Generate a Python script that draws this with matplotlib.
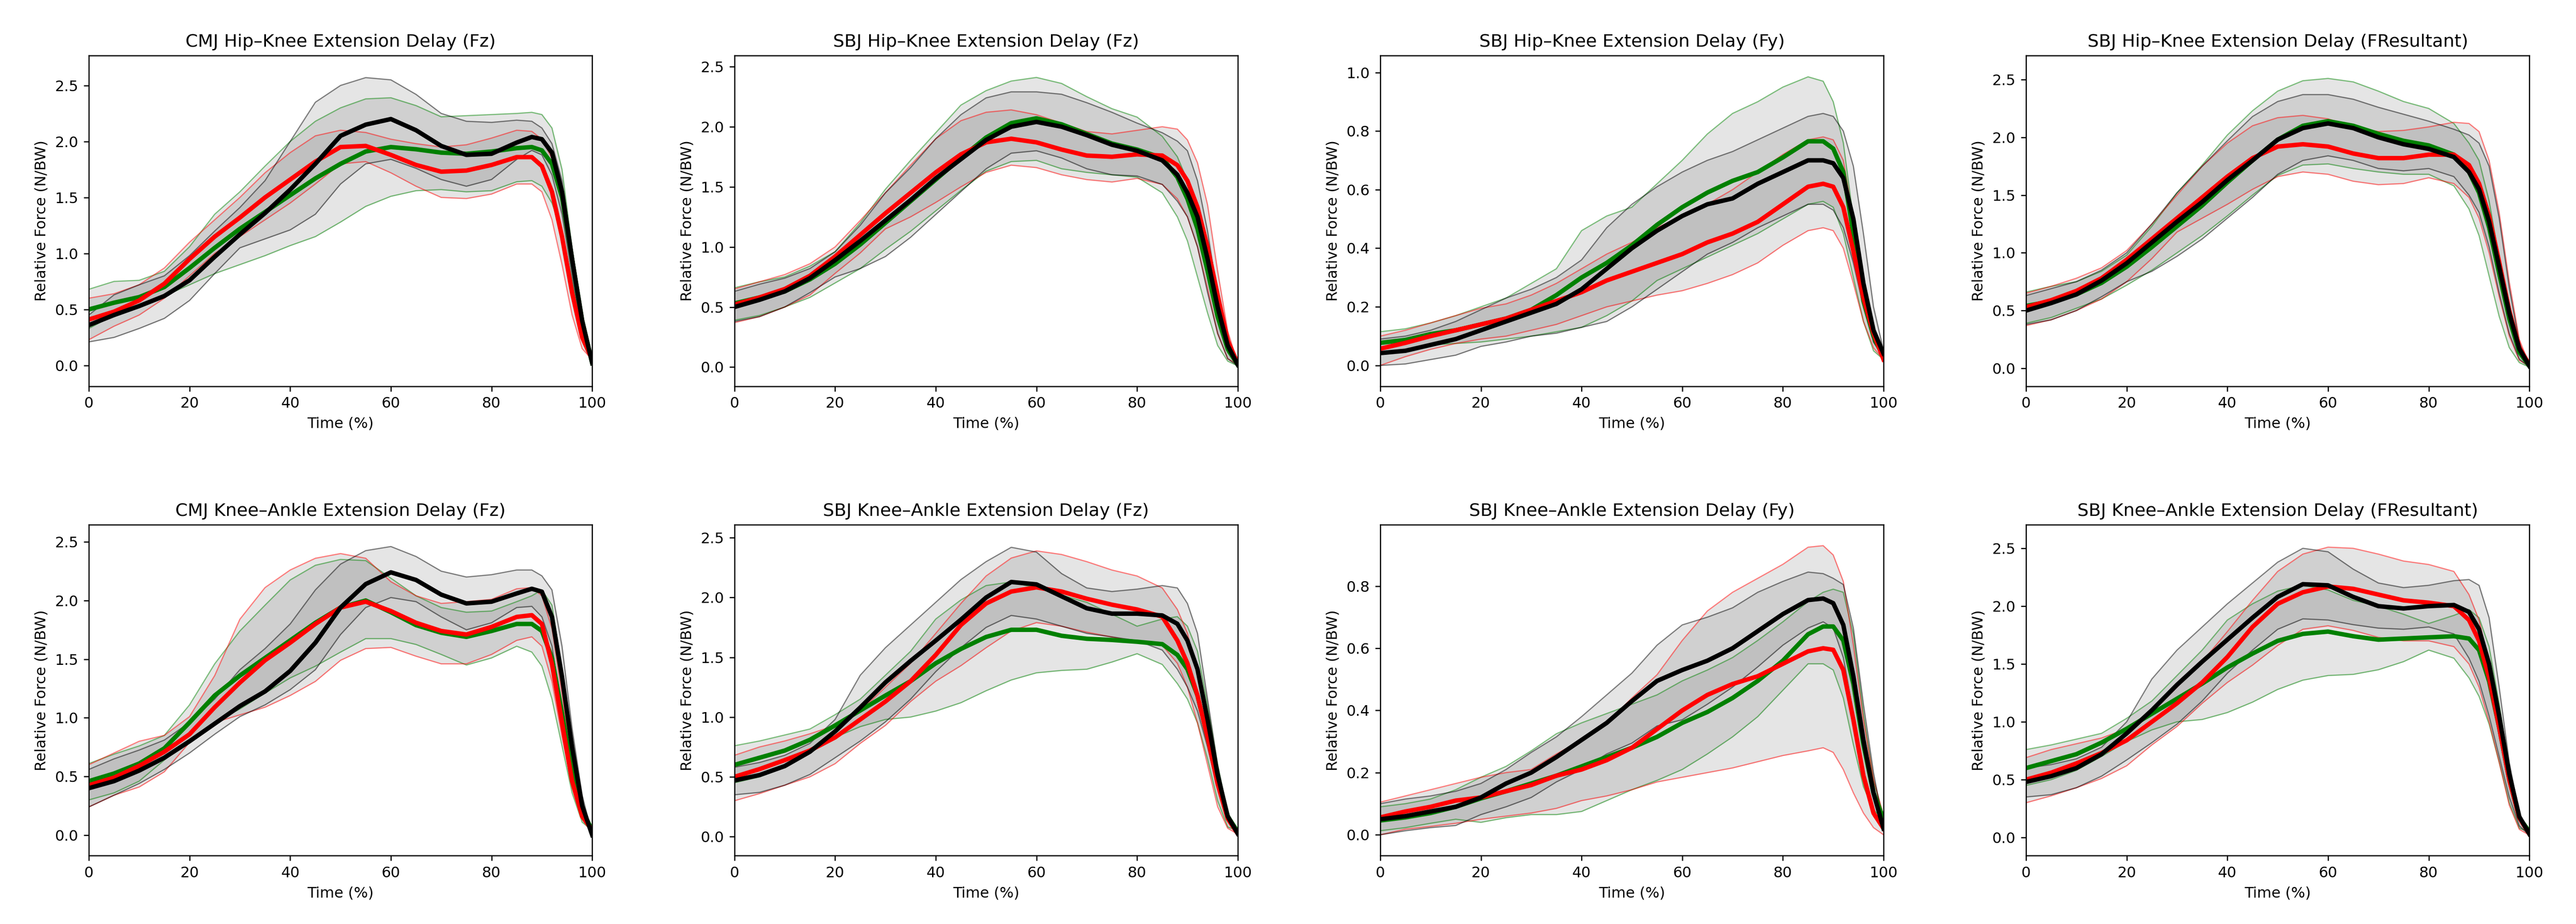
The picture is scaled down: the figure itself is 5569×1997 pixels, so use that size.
import matplotlib.pyplot as plt
import numpy as np

time_pct = [0, 5, 10, 15, 20, 25, 30, 35, 40, 45, 50, 55, 60, 65, 70, 75, 80, 85, 88, 90, 92, 94, 96, 98, 100]

titles = [
    "CMJ Hip\u2013Knee Extension Delay (Fz)",
    "SBJ Hip\u2013Knee Extension Delay (Fz)",
    "SBJ Hip\u2013Knee Extension Delay (Fy)",
    "SBJ Hip\u2013Knee Extension Delay (FResultant)",
    "CMJ Knee\u2013Ankle Extension Delay (Fz)",
    "SBJ Knee\u2013Ankle Extension Delay (Fz)",
    "SBJ Knee\u2013Ankle Extension Delay (Fy)",
    "SBJ Knee\u2013Ankle Extension Delay (FResultant)",
]

# panel 1: CMJ hip-knee Fz
p1_black_mean = [0.36, 0.45, 0.53, 0.62, 0.76, 0.97, 1.17, 1.36, 1.57, 1.80, 2.05, 2.15, 2.20, 2.10, 1.96, 1.88, 1.89, 1.99, 2.04, 2.02, 1.90, 1.55, 0.95, 0.40, 0.02]
p1_black_hi = [0.45, 0.63, 0.72, 0.80, 0.98, 1.20, 1.41, 1.65, 2.00, 2.35, 2.50, 2.57, 2.55, 2.42, 2.25, 2.18, 2.17, 2.19, 2.18, 2.12, 1.98, 1.65, 1.05, 0.45, 0.04]
p1_black_lo = [0.21, 0.25, 0.33, 0.42, 0.58, 0.82, 1.05, 1.13, 1.21, 1.35, 1.62, 1.80, 1.84, 1.76, 1.66, 1.60, 1.66, 1.84, 1.92, 1.88, 1.70, 1.35, 0.80, 0.30, 0.02]
p1_green_mean = [0.50, 0.56, 0.61, 0.70, 0.87, 1.05, 1.22, 1.37, 1.52, 1.67, 1.80, 1.91, 1.95, 1.93, 1.90, 1.89, 1.91, 1.94, 1.95, 1.92, 1.80, 1.50, 0.95, 0.40, 0.02]
p1_green_hi = [0.68, 0.75, 0.76, 0.84, 1.06, 1.35, 1.55, 1.78, 2.00, 2.18, 2.30, 2.38, 2.39, 2.32, 2.22, 2.23, 2.24, 2.25, 2.26, 2.24, 2.12, 1.75, 1.05, 0.42, 0.02]
p1_green_lo = [0.33, 0.45, 0.52, 0.62, 0.72, 0.82, 0.90, 0.98, 1.07, 1.15, 1.28, 1.42, 1.51, 1.56, 1.57, 1.55, 1.56, 1.64, 1.65, 1.60, 1.45, 1.20, 0.75, 0.30, 0.02]
p1_red_mean = [0.41, 0.48, 0.58, 0.73, 0.95, 1.15, 1.32, 1.50, 1.66, 1.82, 1.95, 1.96, 1.88, 1.79, 1.73, 1.74, 1.79, 1.86, 1.86, 1.78, 1.55, 1.15, 0.65, 0.25, 0.05]
p1_red_hi = [0.60, 0.64, 0.72, 0.87, 1.10, 1.30, 1.50, 1.72, 1.90, 2.05, 2.10, 2.08, 2.02, 1.98, 1.95, 1.97, 2.03, 2.10, 2.09, 2.02, 1.85, 1.45, 0.90, 0.35, 0.05]
p1_red_lo = [0.23, 0.35, 0.45, 0.60, 0.80, 1.00, 1.15, 1.30, 1.45, 1.62, 1.80, 1.82, 1.72, 1.60, 1.50, 1.49, 1.53, 1.62, 1.62, 1.55, 1.30, 0.90, 0.45, 0.15, 0.05]

# panel 2: SBJ hip-knee Fz
p2_black_mean = [0.50, 0.56, 0.63, 0.74, 0.89, 1.05, 1.22, 1.39, 1.57, 1.73, 1.89, 2.00, 2.04, 2.00, 1.93, 1.85, 1.80, 1.72, 1.60, 1.45, 1.25, 0.90, 0.50, 0.18, 0.02]
p2_black_hi = [0.63, 0.69, 0.74, 0.82, 0.96, 1.18, 1.45, 1.66, 1.90, 2.10, 2.24, 2.29, 2.29, 2.27, 2.20, 2.12, 2.03, 1.95, 1.88, 1.80, 1.55, 1.13, 0.60, 0.20, 0.02]
p2_black_lo = [0.38, 0.42, 0.50, 0.62, 0.75, 0.82, 0.92, 1.08, 1.27, 1.46, 1.65, 1.78, 1.80, 1.74, 1.65, 1.60, 1.59, 1.52, 1.38, 1.25, 1.00, 0.62, 0.28, 0.07, 0.01]
p2_green_mean = [0.53, 0.58, 0.63, 0.73, 0.86, 1.02, 1.20, 1.38, 1.56, 1.74, 1.91, 2.03, 2.07, 2.02, 1.94, 1.86, 1.81, 1.74, 1.58, 1.40, 1.15, 0.80, 0.42, 0.15, 0.02]
p2_green_hi = [0.66, 0.71, 0.75, 0.84, 0.96, 1.20, 1.48, 1.72, 1.95, 2.18, 2.30, 2.38, 2.41, 2.36, 2.25, 2.15, 2.08, 1.92, 1.75, 1.55, 1.25, 0.85, 0.42, 0.12, 0.02]
p2_green_lo = [0.39, 0.43, 0.50, 0.58, 0.70, 0.82, 0.98, 1.13, 1.30, 1.47, 1.63, 1.71, 1.72, 1.65, 1.62, 1.60, 1.58, 1.45, 1.25, 1.05, 0.75, 0.45, 0.18, 0.05, 0.01]
p2_red_mean = [0.52, 0.58, 0.65, 0.76, 0.92, 1.10, 1.28, 1.45, 1.62, 1.77, 1.87, 1.90, 1.87, 1.81, 1.76, 1.75, 1.77, 1.76, 1.68, 1.55, 1.33, 1.00, 0.60, 0.22, 0.03]
p2_red_hi = [0.65, 0.71, 0.77, 0.86, 1.00, 1.22, 1.45, 1.68, 1.90, 2.05, 2.12, 2.14, 2.10, 2.03, 1.96, 1.94, 1.97, 2.00, 1.98, 1.89, 1.70, 1.35, 0.80, 0.30, 0.03]
p2_red_lo = [0.37, 0.42, 0.50, 0.60, 0.78, 0.95, 1.15, 1.25, 1.37, 1.50, 1.62, 1.68, 1.66, 1.60, 1.56, 1.54, 1.57, 1.52, 1.40, 1.25, 1.00, 0.65, 0.28, 0.07, 0.02]

# panel 3: SBJ hip-knee Fy
p3_black_mean = [0.042, 0.05, 0.07, 0.09, 0.12, 0.15, 0.18, 0.21, 0.26, 0.33, 0.40, 0.46, 0.51, 0.55, 0.57, 0.62, 0.66, 0.70, 0.70, 0.69, 0.64, 0.50, 0.28, 0.12, 0.04]
p3_black_hi = [0.09, 0.10, 0.12, 0.15, 0.19, 0.23, 0.26, 0.30, 0.36, 0.47, 0.55, 0.61, 0.66, 0.70, 0.73, 0.77, 0.81, 0.85, 0.86, 0.85, 0.80, 0.68, 0.45, 0.20, 0.05]
p3_black_lo = [0.0, 0.005, 0.02, 0.035, 0.065, 0.08, 0.10, 0.11, 0.13, 0.15, 0.20, 0.26, 0.32, 0.38, 0.42, 0.47, 0.51, 0.55, 0.55, 0.53, 0.47, 0.35, 0.20, 0.08, 0.03]
p3_green_mean = [0.077, 0.087, 0.107, 0.12, 0.14, 0.16, 0.19, 0.24, 0.30, 0.35, 0.41, 0.48, 0.54, 0.59, 0.63, 0.66, 0.71, 0.765, 0.765, 0.74, 0.66, 0.45, 0.22, 0.10, 0.03]
p3_green_hi = [0.115, 0.125, 0.145, 0.17, 0.20, 0.23, 0.28, 0.33, 0.46, 0.51, 0.54, 0.62, 0.70, 0.79, 0.86, 0.90, 0.95, 0.985, 0.97, 0.90, 0.76, 0.50, 0.25, 0.08, 0.02]
p3_green_lo = [0.04, 0.05, 0.07, 0.075, 0.08, 0.09, 0.10, 0.115, 0.13, 0.17, 0.22, 0.29, 0.33, 0.37, 0.41, 0.45, 0.50, 0.55, 0.56, 0.54, 0.45, 0.30, 0.15, 0.05, 0.02]
p3_red_mean = [0.057, 0.077, 0.10, 0.12, 0.14, 0.16, 0.19, 0.22, 0.25, 0.29, 0.32, 0.35, 0.38, 0.42, 0.45, 0.49, 0.55, 0.61, 0.62, 0.61, 0.54, 0.39, 0.23, 0.11, 0.02]
p3_red_hi = [0.10, 0.12, 0.145, 0.17, 0.195, 0.21, 0.24, 0.28, 0.33, 0.38, 0.42, 0.47, 0.51, 0.55, 0.60, 0.66, 0.72, 0.77, 0.78, 0.77, 0.70, 0.50, 0.28, 0.10, 0.02]
p3_red_lo = [0.0, 0.03, 0.055, 0.075, 0.09, 0.10, 0.12, 0.14, 0.17, 0.20, 0.22, 0.24, 0.255, 0.28, 0.31, 0.35, 0.41, 0.46, 0.47, 0.46, 0.40, 0.28, 0.15, 0.06, 0.02]

# panel 4: SBJ hip-knee FResultant
p4_black_mean = [0.50, 0.565, 0.64, 0.76, 0.91, 1.09, 1.27, 1.44, 1.63, 1.80, 1.98, 2.08, 2.12, 2.08, 2.00, 1.94, 1.90, 1.83, 1.70, 1.55, 1.27, 0.88, 0.48, 0.17, 0.02]
p4_black_hi = [0.63, 0.69, 0.75, 0.85, 1.00, 1.25, 1.52, 1.75, 1.97, 2.18, 2.31, 2.37, 2.37, 2.33, 2.26, 2.20, 2.14, 2.07, 2.02, 1.95, 1.75, 1.30, 0.70, 0.22, 0.02]
p4_black_lo = [0.38, 0.42, 0.50, 0.62, 0.75, 0.84, 0.97, 1.12, 1.30, 1.48, 1.68, 1.80, 1.84, 1.80, 1.73, 1.71, 1.73, 1.66, 1.50, 1.35, 1.05, 0.65, 0.30, 0.08, 0.01]
p4_green_mean = [0.54, 0.58, 0.64, 0.74, 0.88, 1.05, 1.23, 1.41, 1.61, 1.80, 1.98, 2.10, 2.14, 2.10, 2.03, 1.97, 1.93, 1.85, 1.70, 1.52, 1.22, 0.82, 0.43, 0.14, 0.02]
p4_green_hi = [0.66, 0.71, 0.75, 0.84, 0.98, 1.23, 1.52, 1.76, 2.02, 2.23, 2.40, 2.49, 2.51, 2.48, 2.40, 2.31, 2.25, 2.12, 1.95, 1.80, 1.45, 0.95, 0.45, 0.12, 0.02]
p4_green_lo = [0.39, 0.44, 0.52, 0.60, 0.72, 0.85, 1.00, 1.15, 1.32, 1.50, 1.67, 1.76, 1.77, 1.73, 1.70, 1.68, 1.68, 1.58, 1.38, 1.15, 0.80, 0.45, 0.18, 0.05, 0.01]
p4_red_mean = [0.53, 0.59, 0.67, 0.78, 0.94, 1.12, 1.30, 1.48, 1.66, 1.82, 1.92, 1.94, 1.92, 1.86, 1.82, 1.82, 1.85, 1.85, 1.76, 1.60, 1.32, 0.92, 0.50, 0.18, 0.03]
p4_red_hi = [0.65, 0.71, 0.78, 0.87, 1.02, 1.25, 1.50, 1.75, 1.95, 2.10, 2.17, 2.19, 2.16, 2.09, 2.05, 2.06, 2.09, 2.13, 2.12, 2.05, 1.80, 1.35, 0.75, 0.25, 0.03]
p4_red_lo = [0.37, 0.42, 0.50, 0.60, 0.75, 0.95, 1.18, 1.30, 1.42, 1.55, 1.66, 1.70, 1.68, 1.62, 1.59, 1.60, 1.65, 1.60, 1.48, 1.30, 1.00, 0.62, 0.28, 0.07, 0.02]

# panel 5: CMJ knee-ankle Fz
p5_black_mean = [0.40, 0.46, 0.55, 0.66, 0.80, 0.95, 1.10, 1.225, 1.40, 1.64, 1.94, 2.14, 2.24, 2.175, 2.05, 1.975, 1.99, 2.06, 2.10, 2.075, 1.86, 1.35, 0.75, 0.25, 0.0]
p5_black_hi = [0.56, 0.65, 0.725, 0.81, 0.96, 1.16, 1.41, 1.59, 1.80, 2.09, 2.31, 2.425, 2.46, 2.375, 2.25, 2.20, 2.22, 2.26, 2.26, 2.21, 2.09, 1.61, 0.91, 0.34, 0.0]
p5_black_lo = [0.24, 0.34, 0.44, 0.56, 0.70, 0.86, 1.01, 1.11, 1.24, 1.41, 1.71, 1.94, 2.025, 1.99, 1.86, 1.75, 1.81, 1.94, 1.95, 1.86, 1.61, 1.04, 0.46, 0.16, 0.0]
p5_green_mean = [0.46, 0.525, 0.61, 0.74, 0.96, 1.19, 1.36, 1.51, 1.66, 1.81, 1.94, 2.00, 1.90, 1.79, 1.725, 1.69, 1.74, 1.80, 1.80, 1.74, 1.51, 1.04, 0.54, 0.21, 0.04]
p5_green_hi = [0.61, 0.69, 0.76, 0.85, 1.11, 1.46, 1.74, 1.96, 2.175, 2.30, 2.35, 2.34, 2.19, 2.04, 1.94, 1.90, 1.91, 1.99, 2.04, 2.09, 1.96, 1.41, 0.79, 0.29, 0.04]
p5_green_lo = [0.30, 0.36, 0.46, 0.64, 0.81, 0.96, 1.075, 1.21, 1.34, 1.44, 1.56, 1.675, 1.675, 1.625, 1.54, 1.45, 1.51, 1.61, 1.56, 1.44, 1.16, 0.76, 0.36, 0.11, 0.04]
p5_red_mean = [0.425, 0.49, 0.59, 0.71, 0.86, 1.09, 1.30, 1.49, 1.64, 1.80, 1.94, 1.99, 1.91, 1.81, 1.74, 1.71, 1.775, 1.86, 1.875, 1.80, 1.46, 0.96, 0.46, 0.16, 0.04]
p5_red_hi = [0.60, 0.70, 0.80, 0.85, 1.01, 1.36, 1.84, 2.11, 2.26, 2.36, 2.40, 2.36, 2.16, 2.04, 1.975, 1.99, 2.01, 2.10, 2.11, 2.04, 1.76, 1.21, 0.61, 0.21, 0.04]
p5_red_lo = [0.24, 0.34, 0.41, 0.54, 0.79, 0.96, 1.025, 1.09, 1.19, 1.31, 1.49, 1.59, 1.60, 1.525, 1.46, 1.46, 1.54, 1.66, 1.69, 1.61, 1.31, 0.84, 0.41, 0.14, 0.04]

# panel 6: SBJ knee-ankle Fz
p6_black_mean = [0.47, 0.515, 0.59, 0.71, 0.88, 1.08, 1.29, 1.47, 1.64, 1.815, 2.00, 2.13, 2.11, 2.01, 1.91, 1.865, 1.865, 1.85, 1.78, 1.64, 1.40, 0.98, 0.515, 0.17, 0.025]
p6_black_hi = [0.58, 0.62, 0.68, 0.78, 0.98, 1.35, 1.58, 1.77, 1.96, 2.15, 2.30, 2.42, 2.38, 2.20, 2.08, 2.05, 2.07, 2.10, 2.08, 1.95, 1.70, 1.15, 0.60, 0.20, 0.03]
p6_black_lo = [0.35, 0.37, 0.43, 0.52, 0.66, 0.80, 0.96, 1.15, 1.38, 1.58, 1.75, 1.85, 1.82, 1.76, 1.70, 1.67, 1.64, 1.56, 1.40, 1.25, 1.05, 0.75, 0.40, 0.13, 0.02]
p6_green_mean = [0.60, 0.66, 0.72, 0.81, 0.93, 1.055, 1.18, 1.30, 1.45, 1.57, 1.67, 1.73, 1.73, 1.68, 1.655, 1.645, 1.63, 1.61, 1.52, 1.40, 1.18, 0.83, 0.47, 0.17, 0.04]
p6_green_hi = [0.76, 0.80, 0.85, 0.90, 1.02, 1.15, 1.35, 1.55, 1.82, 1.98, 2.10, 2.13, 2.08, 2.02, 1.96, 1.86, 1.76, 1.82, 1.84, 1.76, 1.55, 1.10, 0.60, 0.20, 0.05]
p6_green_lo = [0.45, 0.50, 0.58, 0.70, 0.83, 0.92, 0.98, 1.00, 1.05, 1.12, 1.22, 1.31, 1.37, 1.39, 1.40, 1.46, 1.53, 1.44, 1.28, 1.15, 0.95, 0.65, 0.30, 0.08, 0.05]
p6_red_mean = [0.50, 0.565, 0.64, 0.72, 0.83, 0.98, 1.13, 1.30, 1.52, 1.77, 1.95, 2.05, 2.085, 2.05, 1.99, 1.94, 1.90, 1.84, 1.64, 1.45, 1.18, 0.83, 0.44, 0.15, 0.025]
p6_red_hi = [0.68, 0.75, 0.80, 0.86, 0.93, 1.05, 1.25, 1.45, 1.70, 1.95, 2.18, 2.33, 2.39, 2.36, 2.30, 2.23, 2.18, 2.08, 1.90, 1.70, 1.35, 0.95, 0.50, 0.17, 0.03]
p6_red_lo = [0.30, 0.36, 0.43, 0.50, 0.61, 0.78, 0.93, 1.13, 1.30, 1.43, 1.58, 1.72, 1.79, 1.76, 1.71, 1.67, 1.63, 1.60, 1.45, 1.25, 0.95, 0.60, 0.25, 0.07, 0.02]

# panel 7: SBJ knee-ankle Fy
p7_black_mean = [0.05, 0.06, 0.075, 0.09, 0.12, 0.165, 0.20, 0.25, 0.305, 0.36, 0.43, 0.495, 0.53, 0.56, 0.60, 0.655, 0.71, 0.755, 0.76, 0.745, 0.675, 0.51, 0.305, 0.135, 0.02]
p7_black_hi = [0.10, 0.115, 0.125, 0.14, 0.165, 0.21, 0.265, 0.315, 0.38, 0.45, 0.52, 0.61, 0.675, 0.70, 0.73, 0.78, 0.815, 0.845, 0.84, 0.825, 0.805, 0.665, 0.42, 0.20, 0.03]
p7_black_lo = [0.0, 0.013, 0.023, 0.03, 0.065, 0.09, 0.12, 0.17, 0.21, 0.26, 0.295, 0.35, 0.37, 0.42, 0.475, 0.54, 0.61, 0.665, 0.685, 0.665, 0.57, 0.39, 0.20, 0.06, 0.015]
p7_green_mean = [0.046, 0.056, 0.07, 0.09, 0.117, 0.14, 0.165, 0.19, 0.22, 0.25, 0.28, 0.315, 0.36, 0.395, 0.44, 0.495, 0.56, 0.645, 0.67, 0.67, 0.625, 0.485, 0.29, 0.135, 0.05]
p7_green_hi = [0.09, 0.10, 0.115, 0.145, 0.185, 0.22, 0.27, 0.325, 0.36, 0.39, 0.42, 0.45, 0.495, 0.53, 0.57, 0.625, 0.685, 0.75, 0.78, 0.79, 0.78, 0.645, 0.39, 0.175, 0.06]
p7_green_lo = [0.013, 0.023, 0.037, 0.05, 0.04, 0.055, 0.065, 0.065, 0.075, 0.11, 0.145, 0.175, 0.21, 0.26, 0.315, 0.38, 0.465, 0.55, 0.55, 0.53, 0.44, 0.29, 0.155, 0.08, 0.05]
p7_red_mean = [0.056, 0.075, 0.09, 0.11, 0.12, 0.14, 0.16, 0.19, 0.21, 0.24, 0.28, 0.34, 0.40, 0.45, 0.485, 0.51, 0.55, 0.59, 0.60, 0.595, 0.53, 0.37, 0.19, 0.07, 0.02]
p7_red_hi = [0.105, 0.125, 0.145, 0.165, 0.185, 0.20, 0.21, 0.26, 0.305, 0.36, 0.44, 0.515, 0.625, 0.72, 0.78, 0.825, 0.87, 0.925, 0.93, 0.90, 0.815, 0.61, 0.37, 0.18, 0.06]
p7_red_lo = [0.0, 0.018, 0.027, 0.037, 0.05, 0.06, 0.07, 0.085, 0.11, 0.125, 0.145, 0.17, 0.185, 0.20, 0.215, 0.235, 0.255, 0.27, 0.28, 0.265, 0.21, 0.135, 0.07, 0.023, 0.0]

# panel 8: SBJ knee-ankle FResultant
p8_black_mean = [0.48, 0.53, 0.60, 0.72, 0.90, 1.10, 1.32, 1.52, 1.71, 1.90, 2.08, 2.19, 2.18, 2.08, 2.00, 1.98, 2.00, 2.01, 1.95, 1.80, 1.50, 1.05, 0.55, 0.18, 0.03]
p8_black_hi = [0.60, 0.63, 0.68, 0.78, 1.00, 1.37, 1.62, 1.82, 2.02, 2.20, 2.38, 2.50, 2.47, 2.32, 2.20, 2.16, 2.18, 2.22, 2.23, 2.18, 1.90, 1.30, 0.65, 0.20, 0.03]
p8_black_lo = [0.35, 0.37, 0.43, 0.53, 0.67, 0.82, 0.98, 1.18, 1.42, 1.62, 1.80, 1.89, 1.88, 1.84, 1.81, 1.80, 1.82, 1.76, 1.55, 1.35, 1.05, 0.70, 0.35, 0.10, 0.02]
p8_green_mean = [0.60, 0.66, 0.72, 0.82, 0.94, 1.07, 1.20, 1.33, 1.47, 1.59, 1.70, 1.76, 1.78, 1.74, 1.71, 1.72, 1.73, 1.74, 1.72, 1.62, 1.35, 0.95, 0.50, 0.17, 0.05]
p8_green_hi = [0.76, 0.80, 0.85, 0.90, 1.03, 1.18, 1.40, 1.62, 1.88, 2.02, 2.13, 2.18, 2.14, 2.05, 2.00, 1.93, 1.85, 1.92, 1.97, 1.90, 1.65, 1.15, 0.60, 0.20, 0.05]
p8_green_lo = [0.45, 0.50, 0.58, 0.70, 0.83, 0.93, 1.00, 1.02, 1.08, 1.17, 1.28, 1.36, 1.40, 1.41, 1.45, 1.52, 1.62, 1.55, 1.38, 1.22, 0.98, 0.65, 0.30, 0.08, 0.05]
p8_red_mean = [0.50, 0.56, 0.64, 0.73, 0.84, 1.00, 1.16, 1.34, 1.56, 1.82, 2.02, 2.12, 2.17, 2.15, 2.10, 2.05, 2.03, 2.00, 1.88, 1.70, 1.38, 0.95, 0.50, 0.17, 0.03]
p8_red_hi = [0.69, 0.76, 0.81, 0.86, 0.94, 1.08, 1.30, 1.52, 1.78, 2.05, 2.30, 2.45, 2.51, 2.50, 2.45, 2.39, 2.36, 2.30, 2.10, 1.88, 1.50, 1.05, 0.55, 0.18, 0.03]
p8_red_lo = [0.30, 0.36, 0.43, 0.51, 0.62, 0.80, 0.96, 1.16, 1.34, 1.49, 1.66, 1.80, 1.83, 1.79, 1.73, 1.70, 1.70, 1.65, 1.50, 1.30, 1.00, 0.65, 0.28, 0.07, 0.02]

y_limits = [(-0.186, 2.768), (-0.159, 2.593), (-0.071, 1.058), (-0.155, 2.709),
            (-0.175, 2.645), (-0.159, 2.608), (-0.067, 0.997), (-0.157, 2.703)]

panels = [
    [(p1_green_mean, p1_green_lo, p1_green_hi), (p1_red_mean, p1_red_lo, p1_red_hi), (p1_black_mean, p1_black_lo, p1_black_hi)],
    [(p2_green_mean, p2_green_lo, p2_green_hi), (p2_red_mean, p2_red_lo, p2_red_hi), (p2_black_mean, p2_black_lo, p2_black_hi)],
    [(p3_green_mean, p3_green_lo, p3_green_hi), (p3_red_mean, p3_red_lo, p3_red_hi), (p3_black_mean, p3_black_lo, p3_black_hi)],
    [(p4_green_mean, p4_green_lo, p4_green_hi), (p4_red_mean, p4_red_lo, p4_red_hi), (p4_black_mean, p4_black_lo, p4_black_hi)],
    [(p5_green_mean, p5_green_lo, p5_green_hi), (p5_red_mean, p5_red_lo, p5_red_hi), (p5_black_mean, p5_black_lo, p5_black_hi)],
    [(p6_green_mean, p6_green_lo, p6_green_hi), (p6_red_mean, p6_red_lo, p6_red_hi), (p6_black_mean, p6_black_lo, p6_black_hi)],
    [(p7_green_mean, p7_green_lo, p7_green_hi), (p7_red_mean, p7_red_lo, p7_red_hi), (p7_black_mean, p7_black_lo, p7_black_hi)],
    [(p8_green_mean, p8_green_lo, p8_green_hi), (p8_red_mean, p8_red_lo, p8_red_hi), (p8_black_mean, p8_black_lo, p8_black_hi)],
]
colors = ["green", "red", "black"]

DPI = 230
fig = plt.figure(figsize=(5569 / DPI, 1997 / DPI), dpi=DPI)
lefts = [0.0345, 0.2851, 0.5358, 0.7865]
bottoms = [0.582, 0.074]

x = np.array(time_pct)
for i, groups in enumerate(panels):
    ax = fig.add_axes([lefts[i % 4], bottoms[i // 4], 0.1954, 0.358])
    for (mean, lo, hi), c in zip(groups, colors):
        ax.fill_between(x, lo, hi, color="gray", alpha=0.2, linewidth=0)
        ax.plot(x, lo, color=c, alpha=0.5, lw=0.8)
        ax.plot(x, hi, color=c, alpha=0.5, lw=0.8)
    for (mean, lo, hi), c in zip(groups, colors):
        ax.plot(x, mean, color=c, lw=3)
    ax.set_xlim(0, 100)
    ax.set_ylim(*y_limits[i])
    ax.set_title(titles[i])
    ax.set_xlabel("Time (%)")
    ax.set_ylabel("Relative Force (N/BW)")

fig.savefig("out.png", dpi=DPI)
